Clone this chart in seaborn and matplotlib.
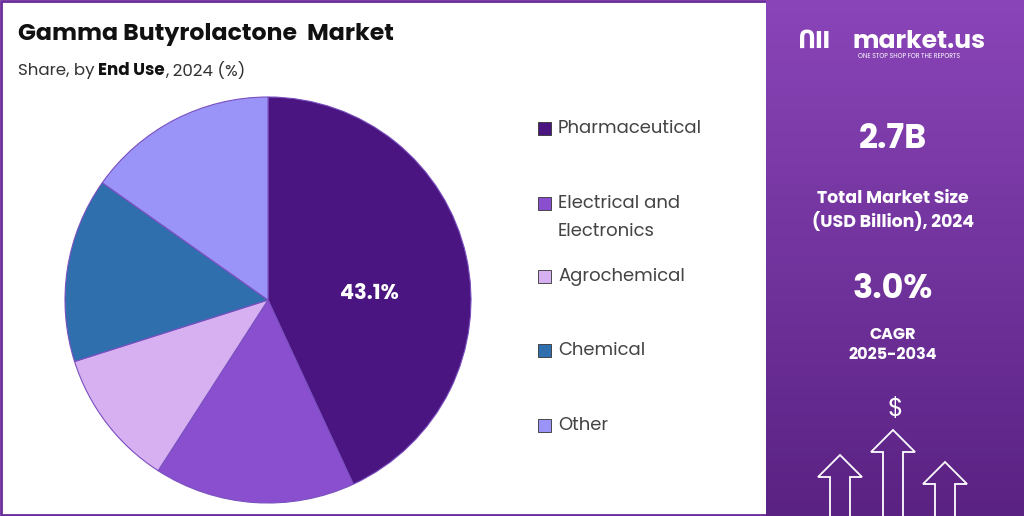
import matplotlib.pyplot as plt
import seaborn as sns
import numpy as np
from matplotlib.patches import Rectangle, Polygon

categories = ["Pharmaceutical", "Electrical and\nElectronics", "Agrochemical", "Chemical", "Other"]
shares = [43.1, 16.0, 11.0, 14.7, 15.2]
colors = ["#4a1580", "#8a4fcf", "#d6b0f0", "#2f6fae", "#9a94f8"]

sns.set_theme(style="white")
plt.rcParams["font.family"] = ["Poppins", "Lato", "DejaVu Sans"]

fig = plt.figure(figsize=(10.24, 5.16), dpi=100)
bg = fig.add_axes([0, 0, 1, 1])
bg.axis("off")
bg.add_patch(Rectangle((1, 1), 1022, 514, fill=False, ec="#6a2c9a", lw=2))
# right panel gradient
grad = np.linspace(0, 1, 256).reshape(-1, 1)
bg.imshow(grad, extent=(766, 1024, 516, 0), aspect="auto",
          cmap=sns.blend_palette(["#8a45b8", "#5a2283"], as_cmap=True), zorder=1)
bg.set_xlim(0, 1024); bg.set_ylim(516, 0)

bg.text(18, 34, "Gamma Butyrolactone  Market", fontsize=17, fontweight="bold", color="#111", va="center")
# subtitle in three runs, placed by measuring
renderer = fig.canvas.get_renderer()
x = 18
for txt, w, col in [("Share, by", "normal", "#333"), ("End Use", "bold", "#111"), (", 2024 (%)", "normal", "#333")]:
    t = bg.text(x, 71, txt, fontsize=12, color=col, fontweight=w, va="center")
    bb = t.get_window_extent(renderer)
    x += bb.width + (4 if txt == "Share, by" else 0)

bg.text(852, 42, "market.us", fontsize=18, fontweight="bold", color="white", va="center", zorder=3)
bg.text(858, 57, "ONE STOP SHOP FOR THE REPORTS", fontsize=4.5, color="white", va="center", zorder=3)
bg.text(798, 42, "ՈII", fontsize=18, fontweight="bold", color="white", va="center", zorder=3)
bg.text(893, 140, "2.7B", fontsize=24, fontweight="bold", color="white", ha="center", va="center", zorder=3)
bg.text(893, 211, "Total Market Size\n(USD Billion), 2024", fontsize=12.5, fontweight="bold",
        color="white", ha="center", va="center", zorder=3, linespacing=1.3)
bg.text(893, 290, "3.0%", fontsize=24, fontweight="bold", color="white", ha="center", va="center", zorder=3)
bg.text(893, 345, "CAGR\n2025-2034", fontsize=11.5, fontweight="bold", color="white",
        ha="center", va="center", zorder=3, linespacing=1.4)
bg.text(895, 410, "$", fontsize=18, color="white", ha="center", va="center", zorder=3)
for cx, top in [(840, 455), (893, 430), (945, 462)]:
    pts = [(cx - 10, 516), (cx - 10, top + 22), (cx - 22, top + 22), (cx, top),
           (cx + 22, top + 22), (cx + 10, top + 22), (cx + 10, 516)]
    bg.add_patch(Polygon(pts, closed=False, fill=False, ec="white", lw=1.3, zorder=3))

ax = fig.add_axes([65 / 1024, 13 / 516, 406 / 1024, 406 / 516])
wedges, _ = ax.pie(shares, colors=colors, startangle=90, counterclock=False,
                   wedgeprops=dict(edgecolor="#7a4fc0", linewidth=0.8))
ax.set_xlim(-1, 1); ax.set_ylim(-1, 1)
ax.text(0.5, 0.03, f"{shares[0]}%", fontsize=15, fontweight="bold", color="white",
        ha="center", va="center")
ax.set_aspect("equal")

ly = [129, 204, 277, 351, 426]
for c, col, y in zip(categories, colors, ly):
    bg.add_patch(Rectangle((538, y - 7), 13, 13, fc=col, ec="#333", lw=0.6))
    bg.text(558, y + 14 if "\n" in c else y, c, fontsize=13, color="#444", va="center",
            linespacing=1.7)

fig.savefig("out.png", dpi=100)
